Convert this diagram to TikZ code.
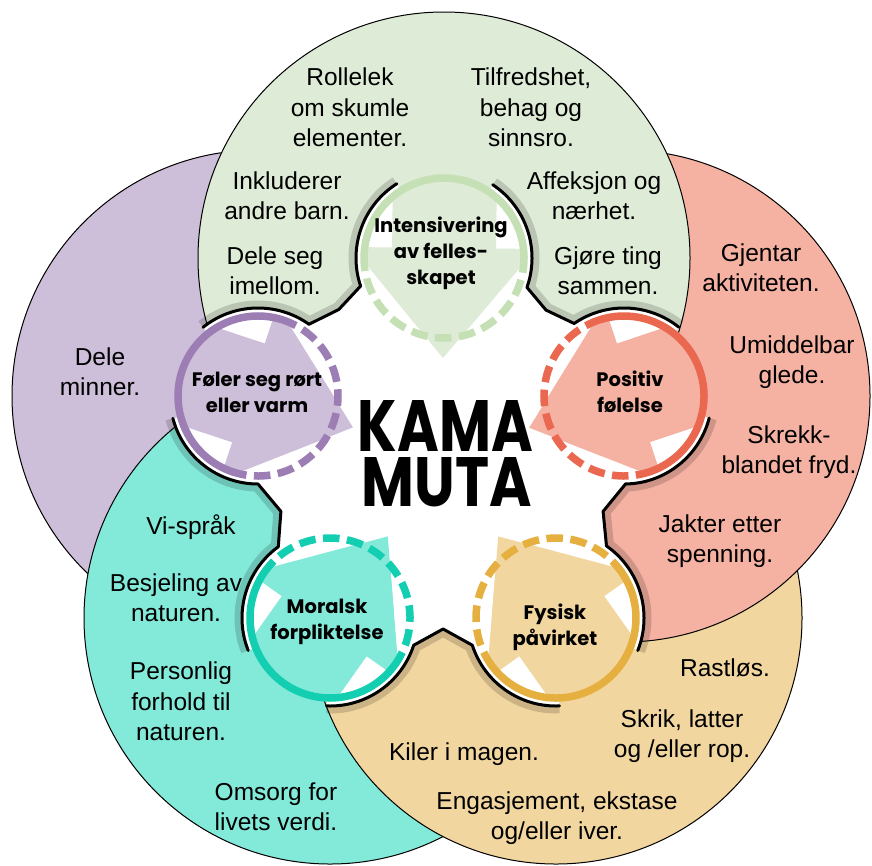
\documentclass[tikz,border=0pt]{standalone}
\usepackage{fontspec}
\setmainfont{Liberation Sans}
\newfontfamily\popfont{Poppins}
\usetikzlibrary{calc}
\definecolor{gfill}{RGB}{222,235,214}
\definecolor{gring}{RGB}{197,224,180}
\definecolor{pfill}{RGB}{205,190,217}
\definecolor{pring}{RGB}{156,125,180}
\definecolor{kfill}{RGB}{245,177,162}
\definecolor{kring}{RGB}{235,104,80}
\definecolor{tfill}{RGB}{131,233,217}
\definecolor{tring}{RGB}{20,206,178}
\definecolor{ofill}{RGB}{242,214,160}
\definecolor{oring}{RGB}{230,176,64}
\newcommand\discseg[5]{-- ($(#1)+(#2:88pt)$) arc[start angle=#2,end angle=#3,radius=88pt] -- ($(#1)+(#3:80pt)$) arc[start angle=#3,end angle=#4,radius=80pt] -- ($(#1)+(#4:88pt)$) arc[start angle=#4,end angle=#5,radius=88pt]}
\newcommand\gapline[7]{($(#1)+(#2:88pt)$) arc[start angle=#2,end angle=#3,radius=88pt] -- (#4) -- ($(#5)+(#6:88pt)$) arc[start angle=#6,end angle=#7,radius=88pt]}
\newcommand\ringicon[4]{%
\begin{scope}[shift={(#1)},rotate=#2]
\begin{scope}
\clip (0,0) circle[radius=80pt];
\fill[#3] (-95,-52) -- (-10,-52) -- (-10,-92) -- (100,0) -- (-10,92) -- (-10,52) -- (-95,52) -- cycle;
\end{scope}
\fill[#3] (100,0) -- (40,-50) -- (40,50) -- cycle;
\draw[#4,line width=7.5pt] (80:80pt) arc[start angle=80,end angle=280,radius=80pt];
\draw[#4,line width=7.5pt,dash pattern=on 16.5pt off 7.5pt,dash phase=16.5pt] (-80:80pt) arc[start angle=-80,end angle=80,radius=80pt];
\end{scope}}
\begin{document}
\begin{tikzpicture}[x=1pt,y=1pt,
  big/.style={draw=black,line width=1pt},
  shadowline/.style={draw=black,draw opacity=0.16,line width=15pt},
  outline/.style={draw=black,line width=3pt,line join=round,line cap=round},
  lab/.style={align=center,font=\fontsize{24.5}{30.5}\selectfont,inner sep=0pt,execute at begin node=\strut,execute at end node=\strut},
  sl/.style={align=center,font=\popfont\bfseries\fontsize{19.5}{26}\selectfont,inner sep=0pt,execute at begin node=\strut,execute at end node=\strut}]
\useasboundingbox (0,0) rectangle (872,-865);
\coordinate (C) at (442,-457);
\coordinate (cG) at (444,-258);
\coordinate (cK) at (624,-396);
\coordinate (cO) at (556,-618);
\coordinate (cT) at (330,-618);
\coordinate (cP) at (258,-396);
\coordinate (pKG) at (546,-310.1);
\coordinate (pGP) at (338.8,-309.5);
\coordinate (pPT) at (280.9,-511.4);
\coordinate (pTO) at (443.1,-629);
\coordinate (pOK) at (603.1,-511.4);
% big circles
\draw[big,fill=pfill] (cP) circle[radius=246pt];
\draw[big,fill=tfill] (cT) circle[radius=246pt];
\draw[big,fill=ofill] (cO) circle[radius=246pt];
\draw[big,fill=kfill] (cK) circle[radius=246pt];
\draw[big,fill=gfill] (cG) circle[radius=246pt];
% shadows
\draw[shadowline] \gapline{cK}{51.5}{124.5}{pKG}{cG}{-19.5}{56.4};
\draw[shadowline] \gapline{cG}{122.4}{198.6}{pGP}{cP}{54.6}{128.7};
\draw[shadowline] \gapline{cP}{194.7}{270}{pPT}{cT}{126}{201.7};
\draw[shadowline] \gapline{cT}{267.7}{342}{pTO}{cO}{198}{272.3};
\draw[shadowline] \gapline{cO}{338.3}{415}{pOK}{cK}{-89}{-14.5};
% white centre
\fill[white] (pOK) \discseg{cK}{-89}{-14.5}{51.5}{124.5} -- (pKG) \discseg{cG}{-19.5}{56.4}{122.4}{198.6} -- (pGP) \discseg{cP}{54.6}{128.7}{194.7}{270} -- (pPT) \discseg{cT}{126}{201.7}{267.7}{342} -- (pTO) \discseg{cO}{198}{272.3}{338.3}{415} -- cycle;
% outlines
\draw[outline] \gapline{cK}{51.5}{124.5}{pKG}{cG}{-19.5}{56.4};
\draw[outline] \gapline{cG}{122.4}{198.6}{pGP}{cP}{54.6}{128.7};
\draw[outline] \gapline{cP}{194.7}{270}{pPT}{cT}{126}{201.7};
\draw[outline] \gapline{cT}{267.7}{342}{pTO}{cO}{198}{272.3};
\draw[outline] \gapline{cO}{338.3}{415}{pOK}{cK}{-89}{-14.5};
% ring icons
\ringicon{cG}{269.4}{gfill}{gring}
\ringicon{cK}{198.5}{kfill}{kring}
\ringicon{cP}{341.7}{pfill}{pring}
\ringicon{cT}{54.7}{tfill}{tring}
\ringicon{cO}{125.3}{ofill}{oring}
% ring labels
\node[sl] (sG) at (441,-255) {Intensivering\\av felles-\\skapet};
\node[sl] (sP) at (257,-396) {Føler seg rørt\\eller varm};
\node[sl] (sK) at (630,-396) {Positiv\\følelse};
\node[sl] (sT) at (327,-623.5) {Moralsk\\forpliktelse};
\node[sl] (sO) at (555,-628.5) {Fysisk\\påvirket};
% title
\node[inner sep=0pt] (k1) at (445.5,-454) {\vbox{\offinterlineskip\hbox{\resizebox{175pt}{51pt}{\popfont\bfseries KAMA}}\vskip6pt\hbox{\hspace{4pt}\resizebox{170pt}{49pt}{\popfont\bfseries MUTA}}}};
% texts
\node[lab] (t1) at (350,-112) {Rollelek\\om skumle\\elementer.};
\node[lab] (t2) at (531,-112) {Tilfredshet,\\behag og\\sinnsro.};
\node[lab] (t3) at (287,-200) {Inkluderer\\andre barn.};
\node[lab] (t4) at (594,-200) {Affeksjon og\\nærhet.};
\node[lab] (t5) at (275,-275) {Dele seg\\imellom.};
\node[lab] (t6) at (608,-275) {Gjøre ting\\sammen.};
\node[lab] (t7) at (100,-376) {Dele\\minner.};
\node[lab] (t8) at (761,-272) {Gjentar\\aktiviteten.};
\node[lab] (t9) at (792,-364) {Umiddelbar\\glede.};
\node[lab] (t10) at (789,-454) {Skrekk-\\blandet fryd.};
\node[lab] (t11) at (720,-543) {Jakter etter\\spenning.};
\node[lab] (t12) at (191,-528) {Vi-språk};
\node[lab] (t13) at (176,-602) {Besjeling av\\naturen.};
\node[lab] (t14) at (181,-706) {Personlig\\forhold til\\naturen.};
\node[lab] (t15) at (276,-811) {Omsorg for\\livets verdi.};
\node[lab] (t16) at (725,-670) {Rastløs.};
\node[lab] (t17) at (682,-738) {Skrik, latter\\og /eller rop.};
\node[lab] (t18) at (464,-754) {Kiler i magen.};
\node[lab] (t19) at (557,-820) {Engasjement, ekstase\\og/eller iver.};
\end{tikzpicture}
\end{document}
